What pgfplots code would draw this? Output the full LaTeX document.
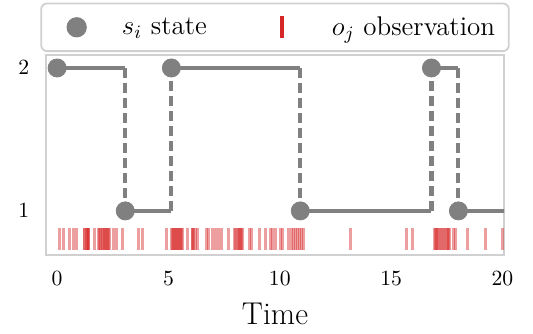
\RequirePackage{fix-cm}
\documentclass[border=0pt]{standalone}
\usepackage{fontspec}
\usepackage{pgfplots}
\pgfplotsset{compat=1.18}
\definecolor{stgray}{RGB}{128,128,128}
\definecolor{obsred}{RGB}{214,39,40}
\definecolor{framegray}{RGB}{208,208,208}
\begin{document}
\begin{tikzpicture}
\begin{axis}[
  name=ax,
  scale only axis, width=232.5pt, height=101.5pt,
  xmin=-0.5, xmax=20.07, ymin=0.692, ymax=2.091,
  xtick={0,5,10,15,20}, ytick={1,2},
  major tick length=0pt,
  axis line style={framegray, line width=0.9pt},
  tick label style={font=\fontsize{11}{13}\selectfont},
  xticklabel shift=5pt, yticklabel shift=5pt,
  xlabel={Time}, xlabel style={font=\fontsize{16}{19}\selectfont, yshift=-2pt},
  legend columns=2,
  legend style={at={(0.5,1)}, anchor=south, yshift=1.5pt, draw=framegray, line width=0.9pt,
    rounded corners=3pt, font=\fontsize{13.7}{16}\selectfont,
    inner xsep=5pt, inner ysep=4.6pt,
    /tikz/every even column/.append style={column sep=25.5pt}},
  unbounded coords=jump,
]
% legend entries
\addlegendimage{legend image code/.code={\path[draw=none,fill=none] (0pt,-7pt) rectangle (34pt,7pt); \fill[stgray] (13pt,0) circle (4.7pt);}}
\addlegendentry{$s_i$ state}
\addlegendimage{legend image code/.code={\path[draw=none,fill=none] (0pt,-7pt) rectangle (34pt,7pt); \draw[obsred, line width=2pt] (10.5pt,-5.5pt) -- (10.5pt,5.5pt);}}
\addlegendentry{$o_j$ observation}
% observations
\addplot[forget plot, only marks, mark=|, mark size=5.5pt, obsred,
  mark options={line width=1.5pt, draw opacity=0.45}] table[y expr=0.805] {
x
0.09
0.27
0.54
0.72
0.85
1.21
1.25
1.30
1.35
1.39
1.37
1.43
1.66
1.84
1.88
1.93
1.97
2.02
2.07
2.16
2.20
2.25
2.29
2.34
2.11
2.52
2.65
2.92
3.64
3.82
4.90
5.12
5.17
5.21
5.26
5.35
5.40
5.44
5.49
5.53
5.58
5.62
5.30
5.84
6.07
6.11
6.20
6.29
6.09
6.70
6.79
6.97
7.10
7.24
7.37
7.69
7.95
8.00
8.09
8.13
8.18
8.22
8.27
8.32
8.63
8.72
9.08
9.35
9.57
9.66
9.80
10.02
10.11
10.38
10.52
10.61
10.70
10.79
10.88
10.97
11.06
13.17
15.69
15.96
16.94
16.98
17.03
17.12
17.21
17.25
17.35
17.39
17.48
17.52
17.57
17.62
17.08
17.80
17.89
18.43
19.24
20.0
};
% state solid segments
\addplot[forget plot, stgray, line width=2.1pt] coordinates {
(0,2) (3.06,2) (nan,nan)
(3.06,1) (5.13,1) (nan,nan)
(5.13,2) (10.92,2) (nan,nan)
(10.92,1) (16.81,1) (nan,nan)
(16.81,2) (18.02,2) (nan,nan)
(18.02,1) (20.1,1)
};
% transitions dashed
\addplot[forget plot, stgray, line width=2.1pt, dash pattern=on 5pt off 2.6pt] coordinates {
(3.06,2) (3.06,1) (nan,nan)
(5.13,1) (5.13,2) (nan,nan)
(10.92,2) (10.92,1) (nan,nan)
(16.81,1) (16.81,2) (nan,nan)
(18.02,2) (18.02,1)
};
% states
\addplot[forget plot, only marks, mark=*, mark size=4.6pt, stgray, mark options={draw=stgray, fill=stgray}] coordinates {
(0,2) (3.06,1) (5.13,2) (10.92,1) (16.81,2) (18.02,1)
};
\end{axis}
\path ([xshift=-23.35pt,yshift=-40.1pt]ax.south west) rectangle ([xshift=14.7pt,yshift=27.9pt]ax.north east);
\end{tikzpicture}
\end{document}
